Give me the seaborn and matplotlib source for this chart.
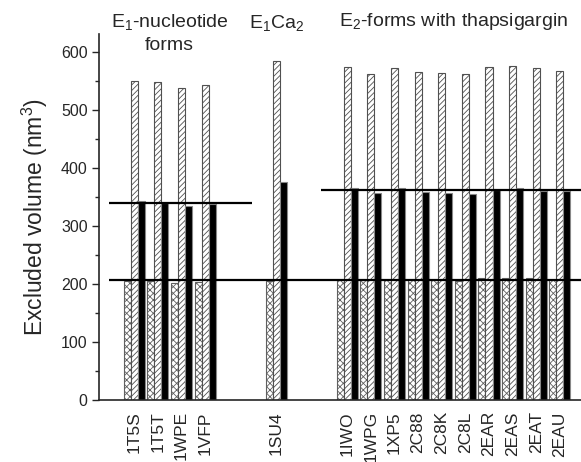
import matplotlib
matplotlib.use("Agg")
import matplotlib.pyplot as plt
import seaborn as sns
import pandas as pd
import numpy as np

sns.set_style("ticks")
plt.rcParams['font.family'] = ['Liberation Sans', 'DejaVu Sans']
plt.rcParams['mathtext.fontset'] = 'custom'
plt.rcParams['mathtext.rm'] = 'Liberation Sans'
plt.rcParams['mathtext.default'] = 'regular'
plt.rcParams['hatch.linewidth'] = 0.6

# ---- data ----
codes = ['1T5S', '1T5T', '1WPE', '1VFP', '1SU4', '1IWO', '1WPG', '1XP5',
         '2C88', '2C8K', '2C8L', '2EAR', '2EAS', '2EAT', '2EAU']
cross_vals = [205, 205, 202, 204, 205, 206, 206, 206, 206, 206, 205, 211, 211, 211, 206]
hatch_vals = [549, 547, 537, 542, 583, 574, 562, 572, 565, 564, 561, 574, 576, 572, 566]
black_vals = [342, 340, 334, 338, 375, 366, 356, 366, 358, 357, 355, 362, 365, 360, 360]
# order with gaps between the three groups
order = ['1T5S', '1T5T', '1WPE', '1VFP', ' ', '  ', '1SU4', '   ', '    ',
         '1IWO', '1WPG', '1XP5', '2C88', '2C8K', '2C8L', '2EAR', '2EAS', '2EAT', '2EAU']
ref_levels = [207, 339, 361]
group_titles = ['E$_1$-nucleotide\nforms', 'E$_1$Ca$_2$', 'E$_2$-forms with thapsigargin']

series = ['cross', 'hatch', 'black']
df = pd.DataFrame({
    'code': codes * 3,
    'value': cross_vals + hatch_vals + black_vals,
    'series': [s for s in series for _ in codes],
})

fig = plt.figure(figsize=(5.81, 4.62), dpi=100)
ax = fig.add_axes([0.170, 0.134, 0.83, 0.792])

sns.barplot(data=df, x='code', y='value', hue='series', order=order,
            hue_order=series, palette={'cross': 'white', 'hatch': 'white', 'black': 'black'},
            width=0.89, legend=False, ax=ax, saturation=1, errorbar=None)

styles = {'cross': ('xxxxx', '#606060'), 'hatch': ('//////', '#505050'), 'black': ('', '#888888')}
for cont, s in zip(ax.containers, series):
    h, ec = styles[s]
    for p in cont.patches:
        p.set_hatch(h)
        p.set_edgecolor(ec)
        p.set_linewidth(0.8)

xl = (-1.50, 18.89)
ax.set_xlim(*xl)
ax.set_ylim(0, 630)

# reference lines
ax.hlines(ref_levels[0], -1.05, xl[1], color='black', lw=1.6, zorder=5)
ax.hlines(ref_levels[1], -1.05, 4.96, color='black', lw=1.6, zorder=5)
ax.hlines(ref_levels[2], 7.9, xl[1], color='black', lw=1.6, zorder=5)

ax.set_yticks(np.arange(0, 601, 100))
ax.set_yticks(np.arange(50, 601, 100), minor=True)
ax.tick_params(axis='y', which='major', length=5, width=1, labelsize=11.5, pad=3)
ax.tick_params(axis='y', which='minor', length=3, width=1)
ax.set_xticks(range(len(order)))
ax.set_xticklabels(order, rotation=90, fontsize=12.5)
ax.tick_params(axis='x', length=0, pad=8)
ax.set_xlabel('')
ax.set_ylabel('Excluded volume (nm$^3$)', fontsize=16.5, labelpad=8)
sns.despine(ax=ax, top=True, right=True)
for sp in ['left', 'bottom']:
    ax.spines[sp].set_linewidth(1.2)

ax.text(1.5, 632, group_titles[0], ha='center', va='center', fontsize=14,
        linespacing=1.45, clip_on=False)
ax.text(6.0, 650, group_titles[1], ha='center', va='center', fontsize=14, clip_on=False)
ax.text(13.5, 652, group_titles[2], ha='center', va='center', fontsize=14, clip_on=False)

fig.savefig('out.png', dpi=100)
